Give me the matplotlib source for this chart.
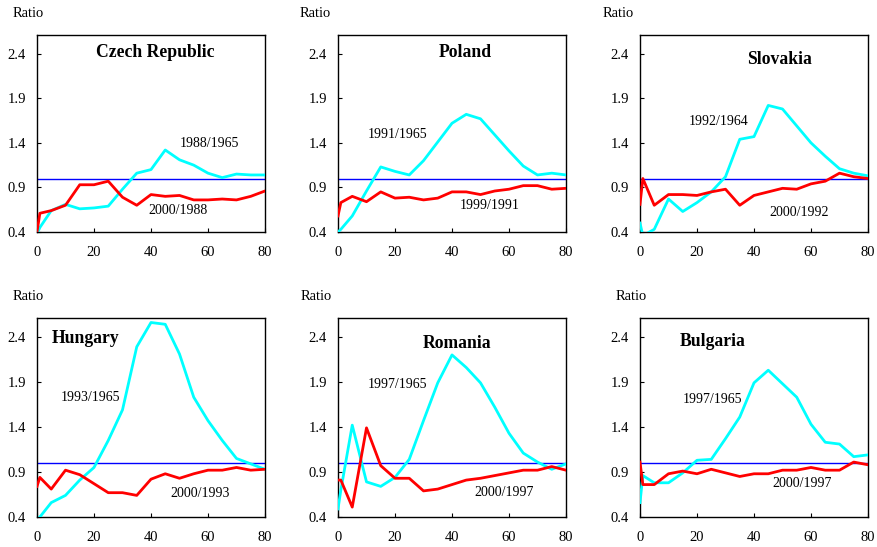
import matplotlib
matplotlib.use("Agg")
import matplotlib.pyplot as plt

plt.rcParams['font.family'] = ['Liberation Serif', 'DejaVu Serif']

ages = [0, 1, 5, 10, 15, 20, 25, 30, 35, 40, 45, 50, 55, 60, 65, 70, 75, 80]

countries = ["Czech Republic", "Poland", "Slovakia", "Hungary", "Romania", "Bulgaria"]

czech_early = [0.38, 0.45, 0.64, 0.71, 0.66, 0.67, 0.69, 0.88, 1.06, 1.10, 1.32, 1.21, 1.15, 1.06, 1.01, 1.05, 1.04, 1.04]
czech_late = [0.40, 0.61, 0.64, 0.70, 0.93, 0.93, 0.97, 0.79, 0.70, 0.82, 0.80, 0.81, 0.76, 0.76, 0.77, 0.76, 0.80, 0.86]

poland_early = [0.40, 0.43, 0.58, 0.86, 1.13, 1.08, 1.04, 1.20, 1.41, 1.62, 1.72, 1.67, 1.49, 1.31, 1.14, 1.04, 1.06, 1.04]
poland_late = [0.58, 0.73, 0.80, 0.74, 0.85, 0.78, 0.79, 0.76, 0.78, 0.85, 0.85, 0.82, 0.86, 0.88, 0.92, 0.92, 0.88, 0.89]

slovakia_early = [0.50, 0.36, 0.43, 0.77, 0.63, 0.73, 0.85, 1.02, 1.44, 1.47, 1.82, 1.78, 1.59, 1.40, 1.25, 1.11, 1.06, 1.03]
slovakia_late = [0.71, 1.00, 0.70, 0.82, 0.82, 0.81, 0.85, 0.88, 0.70, 0.81, 0.85, 0.89, 0.88, 0.94, 0.97, 1.06, 1.02, 1.00]

hungary_early = [0.35, 0.40, 0.56, 0.64, 0.81, 0.95, 1.25, 1.59, 2.29, 2.56, 2.54, 2.21, 1.73, 1.47, 1.25, 1.05, 0.99, 0.93]
hungary_late = [0.74, 0.84, 0.71, 0.92, 0.87, 0.77, 0.67, 0.67, 0.64, 0.82, 0.88, 0.83, 0.88, 0.92, 0.92, 0.95, 0.92, 0.93]

romania_early = [0.49, 0.70, 1.42, 0.79, 0.74, 0.84, 1.04, 1.47, 1.89, 2.20, 2.06, 1.89, 1.62, 1.33, 1.11, 1.01, 0.93, 0.99]
romania_late = [0.81, 0.81, 0.51, 1.39, 0.97, 0.83, 0.83, 0.69, 0.71, 0.76, 0.81, 0.83, 0.86, 0.89, 0.92, 0.92, 0.96, 0.92]

bulgaria_early = [0.56, 0.86, 0.78, 0.78, 0.89, 1.03, 1.04, 1.27, 1.51, 1.89, 2.03, 1.88, 1.73, 1.43, 1.23, 1.21, 1.07, 1.09]
bulgaria_late = [1.01, 0.76, 0.76, 0.88, 0.91, 0.88, 0.93, 0.89, 0.85, 0.88, 0.88, 0.92, 0.92, 0.95, 0.92, 0.92, 1.01, 0.98]

early_labels = ["1988/1965", "1991/1965", "1992/1964", "1993/1965", "1997/1965", "1997/1965"]
late_labels = ["2000/1988", "1999/1991", "2000/1992", "2000/1993", "2000/1997", "2000/1997"]

early_series = [czech_early, poland_early, slovakia_early, hungary_early, romania_early, bulgaria_early]
late_series = [czech_late, poland_late, slovakia_late, hungary_late, romania_late, bulgaria_late]

yticks = [0.4, 0.9, 1.4, 1.9, 2.4]
xticks = [0, 20, 40, 60, 80]

# layout (pixels)
W, H = 878, 547
lefts = [37, 338, 640]
rows = [(35, 232), (318, 517)]
ratio_offsets = [-24, -38, -37, -24, -37, -24]

# annotation positions (data coords)
title_pos = [(41.4, 2.41), (44.6, 2.41), (48.8, 2.34), (17.2, 2.38), (41.8, 2.33), (25.6, 2.35)]
early_pos = [(60.4, 1.39), (21.0, 1.49), (27.7, 1.64), (18.6, 1.73), (21.0, 1.87), (25.6, 1.71)]
late_pos = [(49.5, 0.64), (53.3, 0.70), (55.8, 0.62), (57.2, 0.66), (58.2, 0.67), (57.0, 0.77)]

fig = plt.figure(figsize=(W / 100, H / 100), dpi=100)

for i, name in enumerate(countries):
    r, c = divmod(i, 3)
    top, bot = rows[r]
    left = lefts[c]
    ax = fig.add_axes([left / W, 1 - bot / H, 228 / W, (bot - top) / H])
    ax.plot(ages, early_series[i], color='#00FFFF', lw=2.0, zorder=3)
    ax.plot(ages, late_series[i], color='#FF0000', lw=2.0, zorder=4)
    ax.axhline(1.0, color='#0000FF', lw=1.0, zorder=2)
    ax.set_xlim(0, 80)
    ax.set_ylim(0.4, 2.61)
    ax.set_xticks(xticks)
    ax.set_yticks(yticks)
    ax.set_yticklabels([f"{v:.1f}" for v in yticks])
    ax.tick_params(direction='in', length=3, labelsize=10.5, width=0.8)
    ax.tick_params(axis='x', pad=10)
    ax.tick_params(axis='y', pad=8)
    for s in ax.spines.values():
        s.set_linewidth(1.0)
    ax.text(*title_pos[i], name, ha='center', va='center', fontsize=12.7, fontweight='bold')
    ax.text(*early_pos[i], early_labels[i], ha='center', va='center', fontsize=10)
    ax.text(*late_pos[i], late_labels[i], ha='center', va='center', fontsize=10)
    ax.text(ratio_offsets[i] / 228, 1 + 21 / (bot - top), "Ratio", transform=ax.transAxes,
            ha='left', va='center', fontsize=10.5)

fig.savefig("out.png", dpi=100)
